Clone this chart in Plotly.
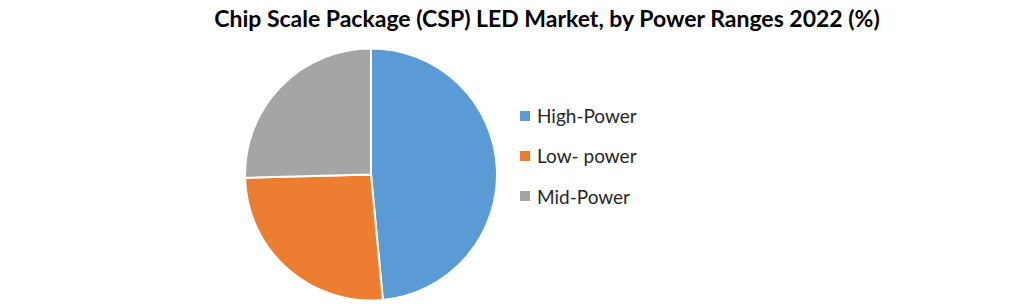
import plotly.graph_objects as go

title = "Chip Scale Package (CSP) LED Market, by Power Ranges 2022 (%)"
labels = ["High-Power", "Low- power", "Mid-Power"]
values = [48.5, 26.1, 25.4]
colors = ["#5B9BD5", "#ED7D31", "#A5A5A5"]

W, H = 1021, 304
fig = go.Figure()
fig.add_trace(go.Pie(
    labels=labels, values=values, sort=False, direction="clockwise", rotation=0,
    marker=dict(colors=colors, line=dict(color="white", width=2)),
    textinfo="none", hoverinfo="label+percent", showlegend=False,
    domain=dict(x=[245 / W, 497 / W], y=[3 / H, 256 / H]),
))

# manual legend
leg_x, leg_y0, leg_dy = 525, 116, 40
for i, (lab, col) in enumerate(zip(labels, colors)):
    cy = leg_y0 + i * leg_dy
    fig.add_shape(type="rect", xref="paper", yref="paper",
                  x0=(leg_x - 5) / W, x1=(leg_x + 5) / W,
                  y0=(H - cy - 5) / H, y1=(H - cy + 5) / H,
                  fillcolor=col, line=dict(width=0))
    fig.add_annotation(text=lab, xref="paper", yref="paper",
                       x=(leg_x + 10) / W, y=(H - cy) / H,
                       xanchor="left", yanchor="middle", showarrow=False,
                       font=dict(family="Lato", size=19, color="#262626"))

fig.update_layout(
    width=W, height=H, margin=dict(l=0, r=0, t=0, b=0),
    paper_bgcolor="white", plot_bgcolor="white",
    title=dict(text="<b>" + title + "</b>", x=547 / W, xanchor="center",
               y=(H - 19) / H, yanchor="middle",
               font=dict(family="Lato", size=23, color="black")),
)
fig.write_html("out.html")
